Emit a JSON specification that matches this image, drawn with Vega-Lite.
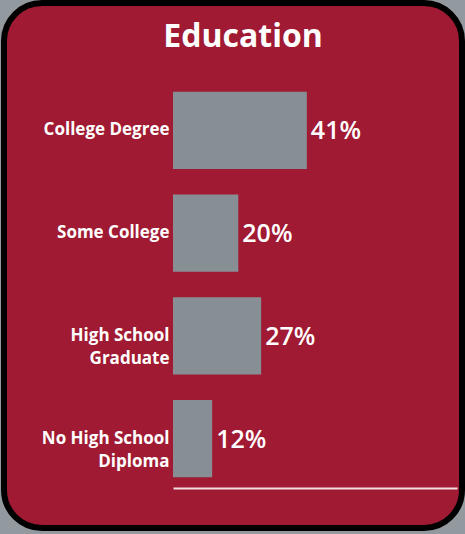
{
  "$schema": "https://vega.github.io/schema/vega-lite/v6.json",
  "autosize": {"type": "none"},
  "padding": {"left": 4, "top": 3, "right": 3, "bottom": 6},
  "width": 458,
  "height": 525,
  "background": "#929a9f",
  "title": {
    "text": "Education",
    "color": "white",
    "font": "Open Sans",
    "fontWeight": "bold",
    "fontSize": 32,
    "anchor": "middle",
    "baseline": "middle",
    "offset": -66,
    "dx": 10
  },
  "data": {
    "values": [
      {"category": "College Degree", "pct": 0.41},
      {"category": "Some College", "pct": 0.20},
      {"category": "High School Graduate", "pct": 0.27},
      {"category": "No High School Diploma", "pct": 0.12}
    ]
  },
  "encoding": {
    "y": {
      "field": "category",
      "type": "nominal",
      "sort": ["College Degree", "Some College", "High School Graduate", "No High School Diploma"],
      "scale": {"range": [76, 487], "paddingInner": 0.25, "paddingOuter": 0.125},
      "axis": {
        "title": null,
        "orient": "left",
        "offset": -169,
        "domain": false,
        "ticks": false,
        "labelPadding": 4,
        "labelColor": "white",
        "labelFont": "Open Sans",
        "labelFontWeight": "bold",
        "labelFontSize": 17,
        "labelLineHeight": 23,
        "labelLimit": 0,
        "labelExpr": "datum.value == 'High School Graduate' ? ['High School', 'Graduate'] : datum.value == 'No High School Diploma' ? ['No High School', 'Diploma'] : datum.value"
      }
    },
    "x": {
      "field": "pct",
      "type": "quantitative",
      "scale": {"domain": [0, 0.87], "range": [169, 453], "nice": false, "zero": true},
      "axis": {
        "title": null,
        "orient": "bottom",
        "offset": -40,
        "labels": false,
        "ticks": false,
        "grid": false,
        "domainColor": "#f1dfe2",
        "domainWidth": 2
      }
    }
  },
  "layer": [
    {"mark": {"type": "bar", "color": "#878e94"}},
    {
      "mark": {
        "type": "text",
        "align": "left",
        "baseline": "middle",
        "dx": 4,
        "dy": 1,
        "color": "white",
        "font": "Open Sans",
        "fontWeight": 600,
        "fontSize": 25
      },
      "encoding": {"text": {"field": "pct", "type": "quantitative", "format": ".0%"}}
    }
  ],
  "config": {
    "view": {"fill": "#9f1a32", "stroke": "#000000", "strokeWidth": 6, "cornerRadius": 38}
  }
}
